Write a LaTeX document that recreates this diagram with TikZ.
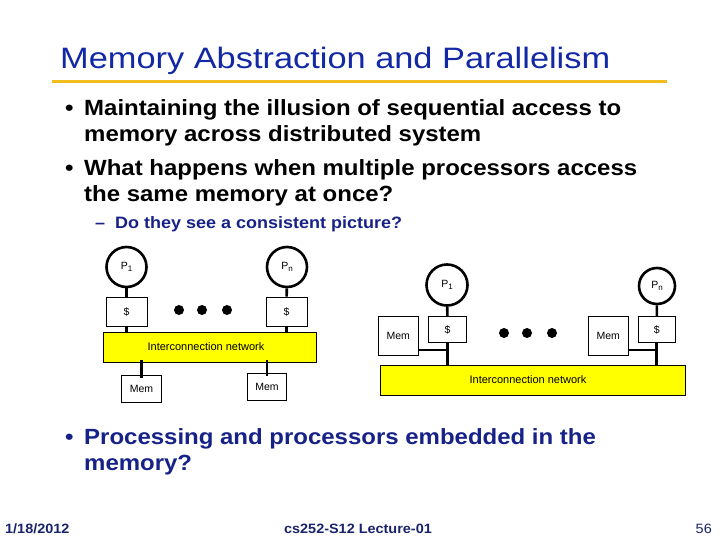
\documentclass[tikz,border=0pt]{standalone}
\usepackage{fontspec}
\setmainfont{Liberation Sans}
\newfontfamily\titlefont[FakeStretch=1.165]{Liberation Sans}
\newfontfamily\bodyfont[FakeStretch=1.09]{Liberation Sans}
\newfontfamily\footfont[FakeStretch=1.07]{Liberation Sans}
\definecolor{titleblue}{RGB}{18,40,165}
\definecolor{textblue}{RGB}{22,34,135}
\definecolor{footblue}{RGB}{25,35,105}
\definecolor{rulegold}{RGB}{240,188,30}
\definecolor{netyellow}{RGB}{255,255,0}
\newcommand{\sub}[1]{\raisebox{-2pt}{\fontsize{8}{8}\selectfont #1}}
\tikzset{
  proc/.style={circle, draw, line width=2.6pt, inner sep=0pt, font=\fontsize{10.5}{11}\selectfont},
  cachebox/.style={rectangle, draw, line width=0.6pt, inner sep=0pt, font=\fontsize{10.5}{11}\selectfont},
  membox/.style={rectangle, draw, line width=0.6pt, inner sep=0pt, font=\fontsize{10.5}{11}\selectfont},
  netbar/.style={rectangle, draw, line width=0.6pt, fill=netyellow, inner sep=0pt, font=\fontsize{11}{11}\selectfont},
  wire/.style={line width=2.6pt},
  bigdot/.style={circle, fill=black, inner sep=0pt, minimum size=10pt},
  bodytext/.style={anchor=base west, inner sep=0pt, font=\bodyfont\bfseries\fontsize{22}{22}\selectfont},
  subtext/.style={anchor=base west, inner sep=0pt, font=\bodyfont\bfseries\fontsize{16.5}{16.5}\selectfont, text=textblue},
  foot/.style={anchor=base, inner sep=0pt, font=\footfont\bfseries\fontsize{13.5}{13.5}\selectfont, text=footblue}
}
\begin{document}
\begin{tikzpicture}[x=1pt,y=-1pt]
\useasboundingbox (0,0) rectangle (720,540);
% title
\node[anchor=base west, inner sep=0pt, font=\titlefont\fontsize{29.5}{29.5}\selectfont, text=titleblue] (title) at (60,69) {Memory Abstraction and Parallelism};
\draw[rulegold, line width=3pt] (52,81.5) -- (667,81.5);
% bullets
\node[bodytext] (b1) at (65,115.5) {•};
\node[bodytext] (t1) at (84,115.5) {Maintaining the illusion of sequential access to};
\node[bodytext] (t1b) at (84,141.5) {memory across distributed system};
\node[bodytext] (b2) at (65,176) {•};
\node[bodytext] (t2) at (84,176) {What happens when multiple processors access};
\node[bodytext] (t2b) at (84,202) {the same memory at once?};
\node[subtext] (d3) at (95,229) {–};
\node[subtext] (t3) at (115,229) {Do they see a consistent picture?};
\node[bodytext, text=textblue] (b4) at (65,444) {•};
\node[bodytext, text=textblue] (t4) at (84,444) {Processing and processors embedded in the};
\node[bodytext, text=textblue] (t4b) at (84,470) {memory?};
% footer
\node[foot, anchor=base west] (date) at (5,533) {1/18/2012};
\node[foot] (lect) at (358,533) {cs252-S12 Lecture-01};
\node[anchor=base east, inner sep=0pt, font=\footfont\fontsize{13.5}{13.5}\selectfont, text=footblue] (page) at (712,533) {56};

% ---------- left diagram ----------
\node[proc, minimum size=40pt] (p1L) at (126.5,267) {P\sub{1}};
\node[proc, minimum size=40pt] (pnL) at (287,267) {P\sub{n}};
\node[cachebox, minimum width=41pt, minimum height=29pt] (cL1) at (126.5,311.5) {\$};
\node[cachebox, minimum width=41pt, minimum height=29pt] (cL2) at (286.5,311.5) {\$};
\node[netbar, minimum width=213pt, minimum height=30pt] (netL) at (209.5,347) {\hspace*{-7pt}Interconnection network};
\node[membox, minimum width=40pt, minimum height=27pt] (memL1) at (141.5,388.5) {Mem};
\node[membox, minimum width=39pt, minimum height=27pt] (memL2) at (267,386.5) {Mem};
\node[bigdot] (dL1) at (179,310) {};
\node[bigdot] (dL2) at (202,310) {};
\node[bigdot] (dL3) at (227,310) {};
\draw[wire] (p1L) -- (cL1);
\draw[wire] (pnL) -- (cL2);
\draw[wire] (cL1) -- (cL1 |- netL.north);
\draw[wire] (cL2) -- (cL2 |- netL.north);
\draw[wire] ([yshift=2pt]memL1.north |- netL.south) -- ([yshift=-3pt]memL1.north);
\draw[wire] ([yshift=2pt]memL2.north |- netL.south) -- ([yshift=-3pt]memL2.north);

% ---------- right diagram ----------
\node[proc, minimum size=41pt] (p1R) at (447,285) {P\sub{1}};
\node[proc, minimum size=36pt] (pnR) at (657,286) {P\sub{n}};
\node[cachebox, minimum width=38pt, minimum height=26pt] (cR1) at (447.5,329.5) {\$};
\node[cachebox, minimum width=37pt, minimum height=26pt] (cR2) at (656.7,329.5) {\$};
\node[membox, minimum width=40pt, minimum height=39pt] (memR1) at (398.3,336.2) {Mem};
\node[membox, minimum width=40pt, minimum height=39pt] (memR2) at (608.3,336.2) {Mem};
\node[netbar, minimum width=305pt, minimum height=30pt] (netR) at (532.5,380) {\hspace*{-9pt}Interconnection network};
\node[bigdot] (dR1) at (504,333) {};
\node[bigdot] (dR2) at (527,333) {};
\node[bigdot] (dR3) at (552,333) {};
\coordinate (jR1) at (447.5,350);
\coordinate (jR2) at (656.7,350);
\draw[wire] (p1R) -- (cR1);
\draw[wire] (pnR) -- (cR2);
\draw[wire] (cR1) -- (cR1 |- netR.north);
\draw[wire] (cR2) -- (cR2 |- netR.north);
\draw[wire] (memR1.east |- jR1) -- (jR1);
\draw[wire] (memR2.east |- jR2) -- (jR2);
\end{tikzpicture}
\end{document}
